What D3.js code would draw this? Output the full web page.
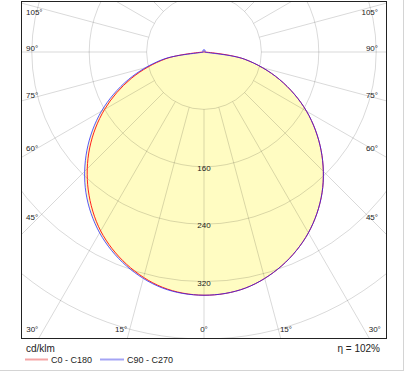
<!DOCTYPE html>
<html>
<head>
<meta charset="utf-8">
<script src="https://cdn.jsdelivr.net/npm/d3@7"></script>
<style>
  body { margin: 0; background: #fff; }
  svg { display: block; font-family: "Liberation Sans", Arial, sans-serif; }
</style>
</head>
<body>
<svg width="408" height="372"></svg>
<script>
// gamma angles (deg from nadir) and intensities in cd/klm
var gamma = [0, 10, 20, 30, 40, 50, 60, 70, 80, 90, 100, 110, 120, 130, 140, 150, 160, 170, 180];
var c0   = [339, 334, 317, 291, 256, 213, 165, 112, 57, 1, 0, 0, 0, 0, 0, 0, 0, 0, 0];
var c180 = [339, 333, 315, 288, 251, 208, 160, 108, 54, 1, 0, 0, 0, 0, 0, 0, 0, 0, 0];
var c90  = [339, 334, 317, 291, 256, 213, 165, 112, 57, 1, 1, 1, 2, 2, 2, 3, 3, 3, 3];
var c270 = [339, 334, 317, 291, 256, 213, 165, 112, 57, 1, 1, 1, 2, 2, 2, 3, 3, 3, 3];

var rings = [80, 160, 240, 320, 400];
var ringLabels = [160, 240, 320];
var spokes = d3.range(0, 181, 15);
var sideLabels = [105, 90, 75, 60, 45];
var bottomLabels = [30, 15, 0];
var eta = "η = 102%";

var svg = d3.select("svg"),
    frame = {left: 21, top: 1, right: 387, bottom: 339},
    cx = 204, cy = 52;

var r = d3.scaleLinear().domain([0, 400]).range([0, 287]);
var toRad = Math.PI / 180;

svg.append("defs").append("clipPath").attr("id", "fr")
  .append("rect")
  .attr("x", frame.left).attr("y", frame.top)
  .attr("width", frame.right - frame.left).attr("height", frame.bottom - frame.top);

var g = svg.append("g").attr("clip-path", "url(#fr)");
var origin = g.append("g").attr("transform", "translate(" + cx + "," + cy + ")");

// build a closed outline: right half from one plane, left half from the other
function outline(right, left) {
  var pts = [];
  gamma.forEach(function (a, i) { pts.push([Math.PI - a * toRad, r(right[i])]); });
  for (var i = gamma.length - 2; i > 0; i--) pts.push([Math.PI + gamma[i] * toRad, r(left[i])]);
  return pts;
}

var line = d3.lineRadial()
  .angle(function (d) { return d[0]; })
  .radius(function (d) { return d[1]; })
  .curve(d3.curveCatmullRomClosed.alpha(0.5));

// yellow fill
origin.append("path")
  .attr("d", line(outline(c90, c270)))
  .attr("fill", "#fffcc2")
  .attr("stroke", "none");

// grid
origin.selectAll("circle.ring")
  .data(rings).enter().append("circle")
  .attr("class", "ring")
  .attr("r", function (d) { return r(d); })
  .attr("fill", "none")
  .attr("stroke", "rgba(0,0,0,0.15)")
  .attr("stroke-width", 1);

var spokeData = [];
spokes.forEach(function (a) { spokeData.push(a); if (a > 0 && a < 180) spokeData.push(-a); });
origin.selectAll("line.spoke")
  .data(spokeData).enter().append("line")
  .attr("class", "spoke")
  .attr("x1", function (d) { return Math.sin(d * toRad) * r(80); })
  .attr("y1", function (d) { return Math.cos(d * toRad) * r(80); })
  .attr("x2", function (d) { return Math.sin(d * toRad) * 700; })
  .attr("y2", function (d) { return Math.cos(d * toRad) * 700; })
  .attr("stroke", "rgba(0,0,0,0.15)")
  .attr("stroke-width", 1);

// curves
origin.append("path")
  .attr("d", line(outline(c0, c180)))
  .attr("fill", "none")
  .attr("stroke", "#ff2020")
  .attr("stroke-width", 1);
origin.append("path")
  .attr("d", line(outline(c90, c270)))
  .attr("fill", "none")
  .attr("stroke", "#2020ff")
  .attr("stroke-opacity", 0.75)
  .attr("stroke-width", 1);

// ring labels
origin.selectAll("text.rl")
  .data(ringLabels).enter().append("text")
  .attr("class", "rl")
  .attr("x", 0)
  .attr("y", function (d) { return r(d) + 4; })
  .attr("text-anchor", "middle")
  .attr("font-size", "8px")
  .attr("fill", "#222")
  .text(function (d) { return d; });

// frame
svg.append("rect")
  .attr("x", frame.left + 0.5).attr("y", frame.top + 0.5)
  .attr("width", frame.right - frame.left - 1).attr("height", frame.bottom - frame.top - 1)
  .attr("fill", "none").attr("stroke", "#222").attr("stroke-width", 1);

// side angle labels
sideLabels.forEach(function (a) {
  var dy = (cx - 30) / Math.tan(a * toRad);
  var y = Math.max(15, Math.min(220, cy + dy - 1));
  svg.append("text").attr("x", 26).attr("y", y)
    .attr("font-size", "8px").attr("fill", "#222").text(a + "°");
  svg.append("text").attr("x", 378).attr("y", y).attr("text-anchor", "end")
    .attr("font-size", "8px").attr("fill", "#222").text(a + "°");
});

// bottom angle labels
bottomLabels.forEach(function (a) {
  var dx = (frame.bottom - cy) * Math.tan(a * toRad);
  if (a === 0) {
    svg.append("text").attr("x", cx).attr("y", 332).attr("text-anchor", "middle")
      .attr("font-size", "8px").attr("fill", "#222").text(a + "°");
    return;
  }
  svg.append("text").attr("x", cx - dx).attr("y", 332).attr("text-anchor", "end")
    .attr("font-size", "8px").attr("fill", "#222").text(a + "°");
  svg.append("text").attr("x", cx + dx - 1).attr("y", 332)
    .attr("font-size", "8px").attr("fill", "#222").text(a + "°");
});

// legend
svg.append("text").attr("x", 26).attr("y", 352)
  .attr("font-size", "10px").attr("fill", "#222").text("cd/klm");
svg.append("line").attr("x1", 25).attr("x2", 48).attr("y1", 359.5).attr("y2", 359.5)
  .attr("stroke", "#f4a4a4").attr("stroke-width", 2);
svg.append("text").attr("x", 51).attr("y", 362.5)
  .attr("font-size", "9px").attr("fill", "#222").text("C0 - C180");
svg.append("line").attr("x1", 100).attr("x2", 124).attr("y1", 359.5).attr("y2", 359.5)
  .attr("stroke", "#a4a4f4").attr("stroke-width", 2);
svg.append("text").attr("x", 127).attr("y", 362.5)
  .attr("font-size", "9px").attr("fill", "#222").text("C90 - C270");
svg.append("text").attr("x", 380).attr("y", 352).attr("text-anchor", "end")
  .attr("font-size", "10px").attr("fill", "#222").text(eta);

// outer border
svg.append("line").attr("x1", 403.5).attr("x2", 403.5).attr("y1", 0).attr("y2", 371)
  .attr("stroke", "#d4d4d4");
svg.append("line").attr("x1", 0).attr("x2", 404).attr("y1", 370.5).attr("y2", 370.5)
  .attr("stroke", "#d4d4d4");
</script>
</body>
</html>
